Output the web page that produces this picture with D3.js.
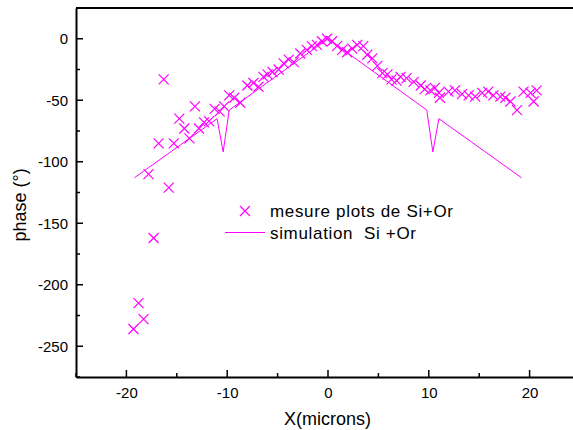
<!DOCTYPE html>
<html><head><meta charset="utf-8">
<script src="https://cdn.jsdelivr.net/npm/d3@7"></script>
<style>body{margin:0;background:#fff}svg{display:block}text{font-family:Arial,"Liberation Sans",sans-serif}</style>
</head><body>
<svg id="c" width="573" height="430"></svg>
<script>
const measX = [-19.3,-18.8,-18.3,-17.8,-17.3,-16.8,-16.3,-15.8,-15.3,-14.75,-14.25,-13.75,-13.2,-12.8,-12.3,-11.8,-11.25,-10.75,-10.3,-9.8,-9.3,-8.7,-8.0,-7.4,-6.9,-6.4,-6.0,-5.5,-4.9,-4.4,-3.9,-3.4,-2.75,-2.1,-1.6,-1.1,-0.6,-0.1,0.4,0.9,1.4,1.9,2.4,2.9,3.5,3.9,4.4,4.9,5.4,5.9,6.3,6.8,7.2,7.8,8.5,9.2,9.6,10.15,10.6,11.0,11.1,11.96,12.6,13.3,13.95,14.6,15.3,15.9,16.4,17.1,17.6,18.1,18.75,19.4,20.1,20.4,20.7];
const measY = [-236,-215,-228,-110,-162,-85,-33,-121,-85,-65,-73,-81,-55,-73,-68,-67,-57,-59,-55,-46,-48,-52,-38,-36,-39,-31,-29,-27,-25,-20,-17,-19,-12,-9,-6,-5,-2,0,-2,-6,-9,-11,-8,-5,-6,-13,-16,-22,-28,-29,-33,-34,-31,-32,-35,-38,-41,-42,-40,-44,-48,-43,-42,-45,-46,-47,-44,-43,-46,-47,-48,-51,-58,-43,-44,-51,-42];
const simX = [-19.2,-11,-10.4,-9.8,0,9.8,10.4,11,19.2];
const simY = [-113,-65,-92,-58,0,-58,-92,-65,-113];
const xTicks = [-20,-10,0,10,20];
const yTicks = [0,-50,-100,-150,-200,-250];
const legendLabels = ["mesure plots de Si+Or","simulation  Si +Or"];

const svg = d3.select("#c");
const L=76, R=580, T=8, B=377;
const x = d3.scaleLinear().domain([-25,25]).range([L,R]);
const y = d3.scaleLinear().domain([-275,25]).range([B,T]);
const col = "#ff00ff";
const fmt = d => String(d);

// frame
svg.append("line").attr("x1",L).attr("x2",R).attr("y1",T).attr("y2",T).attr("stroke","#000").attr("stroke-width",2);
svg.append("line").attr("x1",R).attr("x2",R).attr("y1",T).attr("y2",B).attr("stroke","#000").attr("stroke-width",2);

// x axis
const xa = svg.append("g").attr("transform",`translate(0,${B})`)
  .call(d3.axisBottom(x).tickValues(xTicks).tickSize(0).tickPadding(10).tickFormat(fmt));
xa.select(".domain").attr("stroke-width",2);
xa.selectAll("text").attr("font-size",15).attr("fill","#000");
svg.append("g").selectAll("line").data(d3.range(-25,26,5)).join("line")
  .attr("x1",d=>x(d)).attr("x2",d=>x(d)).attr("y1",B).attr("y2",d=>B-(d%10===0?7:4))
  .attr("stroke","#000").attr("stroke-width",1.5);

// y axis
const ya = svg.append("g").attr("transform",`translate(${L},0)`)
  .call(d3.axisLeft(y).tickValues(yTicks).tickSize(0).tickPadding(8).tickFormat(fmt));
ya.select(".domain").attr("stroke-width",2);
ya.selectAll("text").attr("font-size",15).attr("fill","#000");
svg.append("g").selectAll("line").data(d3.range(-275,26,25)).join("line")
  .attr("x1",L).attr("x2",d=>L+(d%50===0?7:4)).attr("y1",d=>y(d)).attr("y2",d=>y(d))
  .attr("stroke","#000").attr("stroke-width",1.5);

// titles
svg.append("text").attr("x",327.5).attr("y",425).attr("text-anchor","middle").attr("font-size",18).text("X(microns)");
svg.append("text").attr("transform","translate(26,205) rotate(-90)").attr("text-anchor","middle").attr("font-size",18).text("phase (°)");

// simulation line
svg.append("path").datum(simX.map((v,i)=>[v,simY[i]]))
  .attr("d",d3.line().x(d=>x(d[0])).y(d=>y(d[1])))
  .attr("fill","none").attr("stroke",col).attr("stroke-width",1);

// crosses
const cr=5;
const crossPath = (cx,cy)=>`M${cx-cr},${cy-cr}L${cx+cr},${cy+cr}M${cx-cr},${cy+cr}L${cx+cr},${cy-cr}`;
svg.append("g").selectAll("path").data(measX.map((v,i)=>[v,measY[i]])).join("path")
  .attr("d",d=>crossPath(x(d[0]),y(d[1]))).attr("stroke",col).attr("stroke-width",1.2).attr("fill","none");

// legend
svg.append("path").attr("d",crossPath(245,211)).attr("stroke",col).attr("stroke-width",1.2);
svg.append("line").attr("x1",225).attr("x2",265).attr("y1",232.5).attr("y2",232.5).attr("stroke",col).attr("stroke-width",1);
svg.append("text").attr("x",270).attr("y",217).attr("font-size",17).attr("textLength",183).text(legendLabels[0]);
svg.append("text").attr("x",270).attr("y",238.5).attr("font-size",17).attr("textLength",146).style("white-space","pre").text(legendLabels[1]);
</script>
</body></html>
